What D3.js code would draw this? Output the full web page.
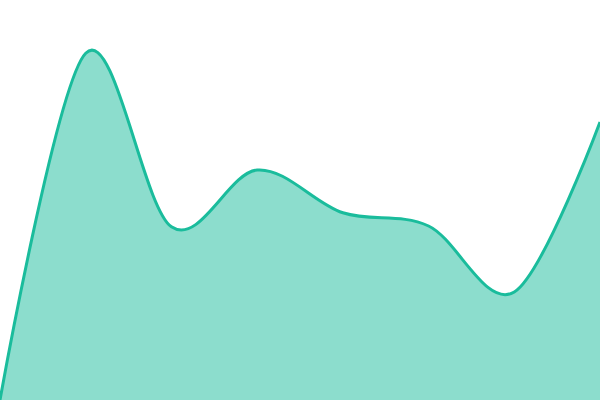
<!DOCTYPE html>
<html>
<head>
<meta charset="utf-8">
<script src="https://cdn.jsdelivr.net/npm/d3@7"></script>
<style>
  html, body { margin: 0; padding: 0; background: #fff; }
  svg { display: block; }
</style>
</head>
<body>
<svg id="chart" width="600" height="400"></svg>
<script>
// one series, evenly spaced
var steps = [0, 1, 2, 3, 4, 5, 6, 7]
var values = [0, 86.7, 43.3, 57.5, 46.8, 43.5, 27, 69.5]

var width = 600, height = 400

var svg = d3.select('#chart')

var x = d3.scaleLinear()
  .domain(d3.extent(steps))
  .range([0, width])

var y = d3.scaleLinear()
  .domain([0, 100])
  .range([height, 0])

var data = steps.map(function (s, i) { return { s: s, v: values[i] } })

var area = d3.area()
  .curve(d3.curveCardinal)
  .x(function (d) { return x(d.s) })
  .y0(height)
  .y1(function (d) { return y(d.v) })

var line = d3.line()
  .curve(d3.curveCardinal)
  .x(function (d) { return x(d.s) })
  .y(function (d) { return y(d.v) })

svg.append('path')
  .datum(data)
  .attr('d', area)
  .attr('fill', '#1abc9c')
  .attr('fill-opacity', 0.5)

svg.append('path')
  .datum(data)
  .attr('d', line)
  .attr('fill', 'none')
  .attr('stroke', '#1abc9c')
  .attr('stroke-width', 3)
</script>
</body>
</html>
